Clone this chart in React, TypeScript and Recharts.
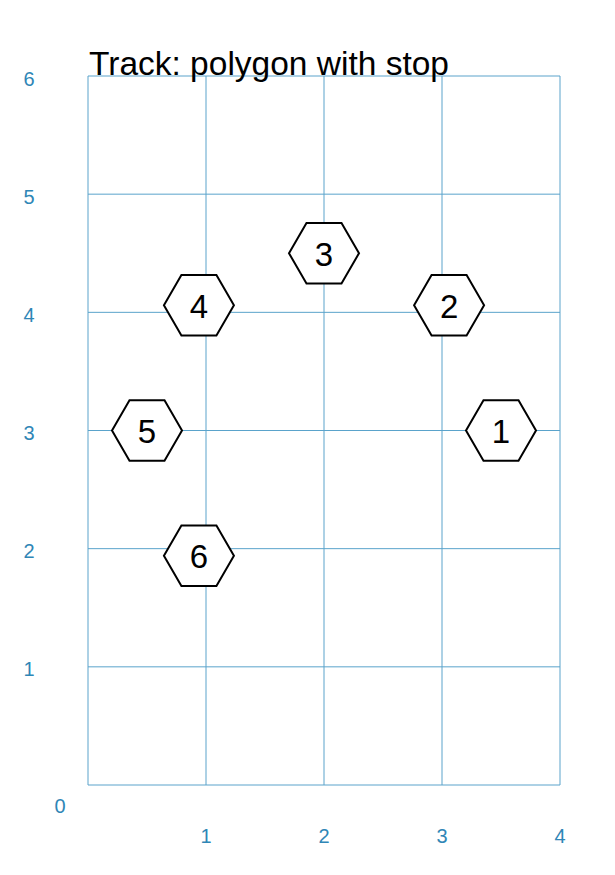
import React from 'react';
import { ScatterChart, Scatter, XAxis, YAxis, CartesianGrid, Customized } from 'recharts';

// stops of the track
const stopX = [3.5, 3.06, 2.0, 0.94, 0.5, 0.94];
const stopY = [3.0, 4.06, 4.5, 4.06, 3.0, 1.94];
const stopLabels = ['1', '2', '3', '4', '5', '6'];

const xTicks = [0, 1, 2, 3, 4];
const yTicks = [0, 1, 2, 3, 4, 5, 6];

const title = 'Track: polygon with stop';

const data = stopX.map((x, i) => ({ x, y: stopY[i], label: stopLabels[i] }));

const FONT = '"Liberation Sans", Arial, Helvetica, sans-serif';
const GRID = '#5aa3cb';
const TICK = '#2f86b6';

const Hexagon = (props: any) => {
  const { cx, cy, payload } = props;
  const r = 35;
  const pts = [0, 60, 120, 180, 240, 300]
    .map((a) => {
      const t = (a * Math.PI) / 180;
      return `${cx + r * Math.cos(t)},${cy + r * Math.sin(t)}`;
    })
    .join(' ');
  return (
    <g>
      <polygon points={pts} fill="#fff" stroke="#000" strokeWidth={2} />
      <text
        x={cx}
        y={cy + 1}
        textAnchor="middle"
        dominantBaseline="central"
        fontFamily={FONT}
        fontSize={33}
        fill="#000"
      >
        {payload.label}
      </text>
    </g>
  );
};

const XTick = (props: any) => {
  const { x, y, payload } = props;
  if (payload.value === 0) return null;
  return (
    <text x={x} y={y + 51} textAnchor="middle" dominantBaseline="central" fontFamily={FONT} fontSize={20} fill={TICK}>
      {payload.value}
    </text>
  );
};

const YTick = (props: any) => {
  const { x, y, payload } = props;
  const zero = payload.value === 0;
  return (
    <text
      x={zero ? x - 28 : x - 59}
      y={zero ? y + 21 : y + 2.5}
      textAnchor="middle"
      dominantBaseline="central"
      fontFamily={FONT}
      fontSize={20}
      fill={TICK}
    >
      {payload.value}
    </text>
  );
};

const Title = () => (
  <text x={89} y={75} fontFamily={FONT} fontSize={33.5} fill="#000">
    {title}
  </text>
);

export default function App() {
  return (
    <div style={{ position: 'absolute', left: 0, top: 0, background: '#fff' }}>
      <ScatterChart width={615} height={875} margin={{ top: 76, right: 55, bottom: 89, left: 87 }}>
        <CartesianGrid stroke={GRID} strokeWidth={1} />
        <XAxis
          type="number"
          dataKey="x"
          domain={[0, 4]}
          ticks={xTicks}
          interval={0}
          height={1}
          axisLine={false}
          tickLine={false}
          tickSize={0}
          tickMargin={0}
          tick={<XTick />}
        />
        <YAxis
          type="number"
          dataKey="y"
          domain={[0, 6]}
          ticks={yTicks}
          interval={0}
          width={1}
          axisLine={false}
          tickLine={false}
          tickSize={0}
          tickMargin={0}
          tick={<YTick />}
        />
        <Scatter data={data} shape={<Hexagon />} isAnimationActive={false} />
        <Customized component={<Title />} />
      </ScatterChart>
    </div>
  );
}
